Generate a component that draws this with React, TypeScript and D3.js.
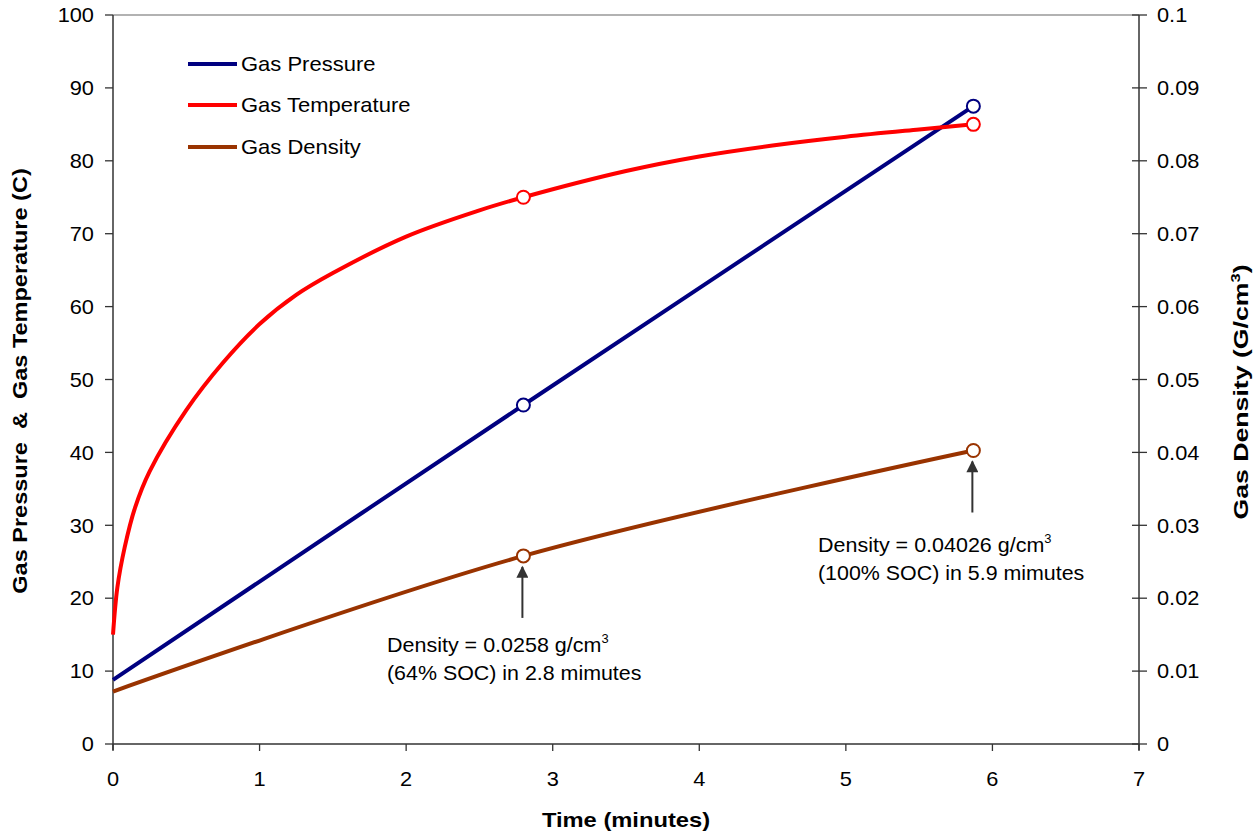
import React from "react";
import * as d3 from "d3";

const W = 1253;
const H = 831;

const xTicks = [0, 1, 2, 3, 4, 5, 6, 7];
const yLeftTicks = [0, 10, 20, 30, 40, 50, 60, 70, 80, 90, 100];
const yRightTicks = [0, 0.01, 0.02, 0.03, 0.04, 0.05, 0.06, 0.07, 0.08, 0.09, 0.1];
const yRightLabels = ["0", "0.01", "0.02", "0.03", "0.04", "0.05", "0.06", "0.07", "0.08", "0.09", "0.1"];

const pressureTime = [0, 2.8, 5.87];
const pressureValues = [8.8, 46.5, 87.5];

const temperatureTime = [0, 0.03, 0.08, 0.15, 0.25, 0.5, 0.75, 1.0, 1.25, 1.5, 2.0, 2.5, 2.8, 3.5, 4.0, 4.5, 5.0, 5.5, 5.87];
const temperatureValues = [15, 21.5, 27, 32.4, 37.4, 45.8, 52.3, 57.6, 61.6, 64.6, 69.6, 73.2, 75, 78.6, 80.6, 82.1, 83.3, 84.3, 85];

const densityTime = [0, 2.8, 5.87];
const densityValues = [0.0072, 0.0258, 0.04026];

const markerTimes = [2.8, 5.87];

const seriesNames = ["Gas Pressure", "Gas Temperature", "Gas Density"];
const seriesColors = ["#000080", "#FF0000", "#993300"];

const font = "Arial, 'Liberation Sans', sans-serif";

type TxtProps = {
  x: number;
  y: number;
  size: number;
  sx?: number;
  anchor?: "start" | "middle" | "end";
  bold?: boolean;
  rotate?: number;
  dy?: string;
  children: React.ReactNode;
};

function Txt({ x, y, size, sx = 1.09, anchor = "start", bold = false, rotate = 0, dy, children }: TxtProps) {
  return (
    <text
      transform={`translate(${x},${y}) rotate(${rotate}) scale(${sx},1)`}
      fontSize={size}
      textAnchor={anchor}
      fontWeight={bold ? "bold" : "normal"}
      dy={dy}
      fill="#000"
      style={{ whiteSpace: "pre" }}
    >
      {children}
    </text>
  );
}

export default function App() {
  const x = d3.scaleLinear().domain([0, 7]).range([113, 1139]);
  const yL = d3.scaleLinear().domain([0, 100]).range([744, 15]);
  const yR = d3.scaleLinear().domain([0, 0.1]).range([744, 15]);

  const smooth = d3.curveCardinal.tension(0);

  const lineL = (c: d3.CurveFactory) =>
    d3
      .line<[number, number]>()
      .x((d) => x(d[0]))
      .y((d) => yL(d[1]))
      .curve(c);
  const lineR = d3
    .line<[number, number]>()
    .x((d) => x(d[0]))
    .y((d) => yR(d[1]))
    .curve(smooth);

  const pData = pressureTime.map((t, i) => [t, pressureValues[i]] as [number, number]);
  const tData = temperatureTime.map((t, i) => [t, temperatureValues[i]] as [number, number]);
  const dData = densityTime.map((t, i) => [t, densityValues[i]] as [number, number]);

  const markerOf = (data: [number, number][]) => data.filter((d) => markerTimes.includes(d[0]));

  const legendY = [64, 105, 147];

  const ann = [
    { t: 2.8, v: densityValues[1], tx: 387, ty: 652, l1: "Density = 0.0258 g/cm", l2: "(64% SOC) in 2.8 mimutes" },
    { t: 5.87, v: densityValues[2], tx: 818, ty: 552, l1: "Density = 0.04026 g/cm", l2: "(100% SOC) in 5.9 mimutes" },
  ];

  return (
    <svg
      width={W}
      height={H}
      style={{ position: "absolute", left: 0, top: 0, background: "#fff" }}
      fontFamily={font}
    >
      <defs>
        <marker id="arrowhead" viewBox="0 0 10 10" refX="9" refY="5" markerWidth="7.5" markerHeight="6" orient="auto" markerUnits="strokeWidth">
          <path d="M0,0 L10,5 L0,10 z" fill="#333" />
        </marker>
      </defs>

      {/* top border */}
      <line x1={x(0)} x2={x(7)} y1={yL(100)} y2={yL(100)} stroke="#999" strokeWidth={1.5} />

      {/* left axis */}
      <line x1={x(0)} x2={x(0)} y1={yL(0) + 6} y2={yL(100)} stroke="#333" strokeWidth={1.5} />
      {yLeftTicks.map((v) => (
        <g key={"l" + v}>
          <line x1={x(0) - 8} x2={x(0)} y1={yL(v)} y2={yL(v)} stroke="#333" strokeWidth={1.3} />
          <Txt x={94} y={yL(v)} dy="0.36em" size={20} anchor="end">
            {String(v)}
          </Txt>
        </g>
      ))}

      {/* right axis */}
      <line x1={x(7)} x2={x(7)} y1={yR(0) + 6} y2={yR(0.1)} stroke="#333" strokeWidth={1.5} />
      {yRightTicks.map((v, i) => (
        <g key={"r" + i}>
          <line x1={x(7) - 7} x2={x(7) + 8} y1={yR(v)} y2={yR(v)} stroke="#333" strokeWidth={1.3} />
          <Txt x={1157} y={yR(v)} dy="0.36em" size={20}>
            {yRightLabels[i]}
          </Txt>
        </g>
      ))}

      {/* bottom axis */}
      <line x1={x(0)} x2={x(7)} y1={yL(0)} y2={yL(0)} stroke="#333" strokeWidth={1.5} />
      {xTicks.map((v) => (
        <g key={"x" + v}>
          <line x1={x(v)} x2={x(v)} y1={yL(0)} y2={yL(0) + 7} stroke="#333" strokeWidth={1.3} />
          <Txt x={x(v)} y={786} size={20} anchor="middle">
            {String(v)}
          </Txt>
        </g>
      ))}

      {/* axis titles */}
      <Txt x={626} y={827} size={21} sx={1.13} anchor="middle" bold>
        Time (minutes)
      </Txt>
      <Txt x={27} y={381} size={21} sx={1.12} anchor="middle" bold rotate={-90}>
        {"Gas Pressure  &  Gas Temperature (C)"}
      </Txt>
      <text
        transform={`translate(1248,392) rotate(-90) scale(1.27,1)`}
        textAnchor="middle"
        fontSize={21}
        fontWeight="bold"
        fill="#000"
      >
        Gas Density (G/cm
        <tspan dy={-8} fontSize={13}>
          3
        </tspan>
        <tspan dy={8}>)</tspan>
      </text>

      {/* series lines */}
      <path d={lineL(smooth)(pData) || ""} fill="none" stroke={seriesColors[0]} strokeWidth={4} />
      <path d={lineL(d3.curveCatmullRom.alpha(0.5))(tData) || ""} fill="none" stroke={seriesColors[1]} strokeWidth={4} />
      <path d={lineR(dData) || ""} fill="none" stroke={seriesColors[2]} strokeWidth={4} />

      {/* markers */}
      {markerOf(pData).map((d, i) => (
        <circle key={"pm" + i} cx={x(d[0])} cy={yL(d[1])} r={6.5} fill="#fff" stroke={seriesColors[0]} strokeWidth={2} />
      ))}
      {markerOf(tData).map((d, i) => (
        <circle key={"tm" + i} cx={x(d[0])} cy={yL(d[1])} r={6.5} fill="#fff" stroke={seriesColors[1]} strokeWidth={2} />
      ))}
      {markerOf(dData).map((d, i) => (
        <circle key={"dm" + i} cx={x(d[0])} cy={yR(d[1])} r={6.5} fill="#fff" stroke={seriesColors[2]} strokeWidth={2} />
      ))}

      {/* legend */}
      {seriesNames.map((name, i) => (
        <g key={name}>
          <line x1={188} x2={237} y1={legendY[i]} y2={legendY[i]} stroke={seriesColors[i]} strokeWidth={4} />
          <Txt x={241} y={legendY[i]} dy="0.36em" size={20} sx={1.1}>
            {name}
          </Txt>
        </g>
      ))}

      {/* annotations */}
      {ann.map((a, i) => (
        <g key={"a" + i}>
          <line
            x1={x(a.t) - 1}
            x2={x(a.t) - 1}
            y1={yR(a.v) + 62}
            y2={yR(a.v) + 11}
            stroke="#333"
            strokeWidth={2}
            markerEnd="url(#arrowhead)"
          />
          <text transform={`translate(${a.tx},${a.ty}) scale(1.075,1)`} fontSize={20} fill="#000">
            {a.l1}
            <tspan dy={-9} fontSize={12}>
              3
            </tspan>
          </text>
          <Txt x={a.tx} y={a.ty + 28} size={20} sx={1.07}>
            {a.l2}
          </Txt>
        </g>
      ))}
    </svg>
  );
}
